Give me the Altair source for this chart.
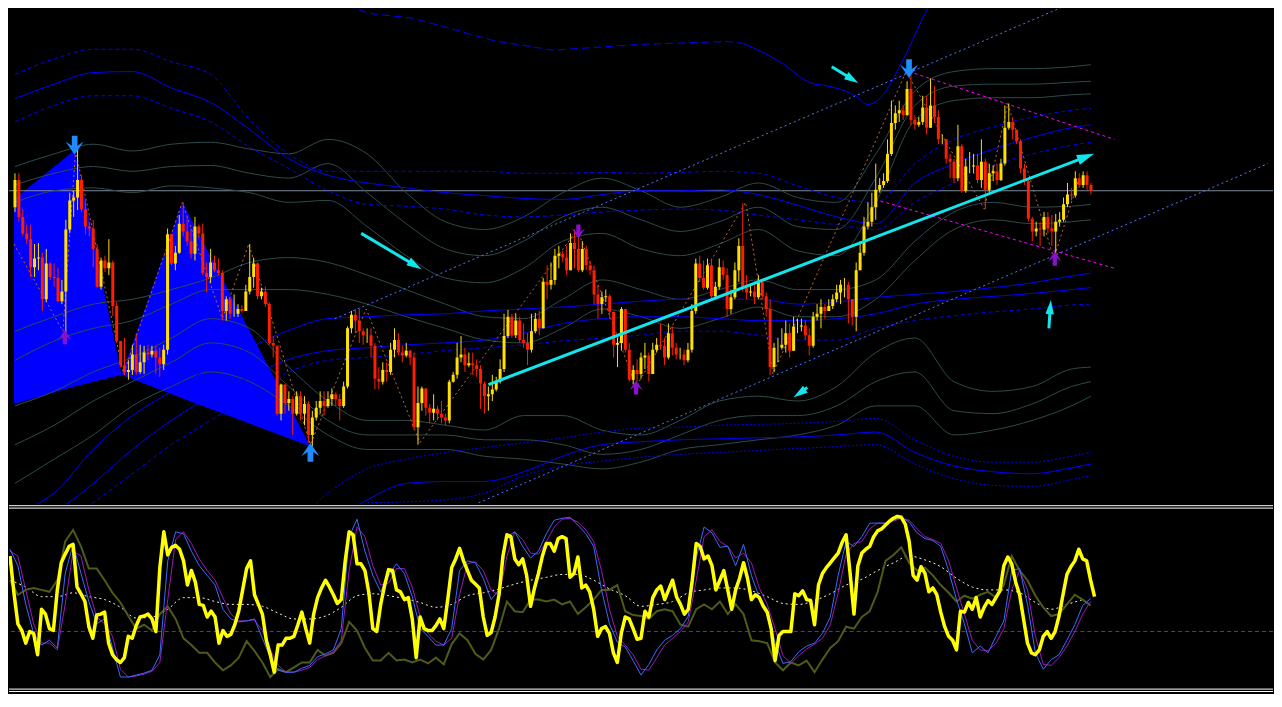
import altair as alt
import pandas as pd
import numpy as np

# ---------------- price candles (values are chart levels: smaller = higher price) ----------------
first_open = 205
close = [
177,215,232,238,267,258,257,300,263,277,
278,302,292,228,198,195,177,207,225,227,
248,287,260,268,262,307,343,368,375,373,
357,375,365,355,357,353,360,367,352,233,
263,252,222,230,240,253,225,232,273,277,
262,270,273,312,300,315,315,310,312,292,
277,263,297,292,305,345,348,418,388,407,
403,418,400,418,408,440,422,412,405,410,
403,398,403,410,390,330,316,322,333,337,
337,348,382,385,373,375,352,342,355,358,
353,360,432,407,392,412,417,413,418,422,
425,385,378,360,357,368,366,368,372,387,
400,398,393,385,372,338,318,337,322,342,
345,352,333,320,330,282,285,280,255,253,
257,270,242,248,270,248,265,270,295,305,
298,297,313,347,345,310,352,383,373,377,
360,358,377,352,347,348,360,335,350,357,
357,363,352,312,263,278,288,265,297,287,
267,275,310,298,270,245,288,293,292,298,
282,297,310,370,350,350,347,335,353,328,
328,327,337,348,318,315,308,312,307,300,
293,285,285,300,318,270,252,225,220,205,
187,182,178,150,118,108,105,110,83,115,
120,117,102,123,100,112,135,135,155,158,
175,142,188,163,163,162,177,158,187,170,
168,177,160,123,117,125,137,165,178,217,
230,227,228,215,227,230,220,218,202,192,
193,175,182,172,182,188]
high = [
170,170,207,223,223,243,242,252,248,262,
263,268,280,218,190,188,145,172,198,220,
218,243,257,255,238,260,303,345,340,363,
347,335,347,348,347,348,348,350,347,227,
237,245,213,200,215,227,215,223,222,262,
248,255,258,270,297,298,295,305,306,285,
243,257,262,288,287,303,338,357,387,388,
395,400,395,395,400,405,415,405,395,395,
395,392,396,398,385,328,312,310,310,330,
330,330,345,370,365,365,345,330,335,348,
345,352,355,390,390,395,408,398,410,405,
418,383,375,345,338,350,355,355,362,368,
385,390,378,380,362,315,311,315,315,318,
325,335,315,314,312,278,265,262,248,245,
250,245,232,228,230,240,245,260,265,285,
292,290,295,315,340,308,320,345,368,362,
355,345,355,345,340,325,340,325,328,345,
350,352,345,305,258,255,260,258,258,282,
258,260,268,290,262,237,201,275,285,282,
275,290,293,300,345,340,330,322,325,318,
320,320,322,330,313,305,300,305,300,295,
285,280,278,282,300,262,240,215,200,190,
160,175,170,135,95,100,95,100,75,68,
110,112,90,90,72,80,105,130,135,150,
155,120,140,155,148,150,150,135,155,160,
162,160,155,100,98,112,125,135,160,175,
215,220,220,210,210,213,212,210,195,180,
185,168,170,168,168,180]
low = [
210,220,235,243,277,277,270,312,303,280,
287,303,305,338,232,215,208,210,233,235,
267,288,290,272,275,317,345,370,378,383,
378,378,377,377,363,360,377,380,373,357,
265,270,253,235,245,258,260,237,275,293,
283,272,275,322,322,320,318,318,314,312,
295,288,300,300,308,347,360,420,425,418,
415,440,420,425,430,448,452,425,418,420,
412,410,410,425,412,392,335,335,345,347,
345,360,393,393,388,385,378,360,358,365,
360,368,435,450,415,420,428,425,425,428,
430,428,386,382,365,375,370,378,380,413,
418,415,405,395,387,375,340,340,340,345,
350,368,355,335,337,306,300,290,285,268,
262,275,270,268,272,272,270,275,305,320,
315,303,320,360,370,353,355,385,388,385,
382,372,385,375,355,352,368,362,358,362,
362,368,365,355,315,282,290,290,302,300,
290,280,318,315,300,282,292,300,297,305,
300,300,318,378,375,365,352,355,360,345,
335,333,342,358,350,322,330,320,312,310,
303,305,298,325,327,333,265,255,228,225,
218,190,185,180,152,125,117,115,110,120,
125,122,120,130,123,118,140,140,160,175,
180,178,190,190,170,170,180,185,207,190,
178,182,178,162,125,135,140,170,182,220,
240,235,245,235,232,245,258,225,220,205,
198,195,185,185,187,192]

# ---------------- band lines sampled every 10 bars ----------------
grid_bars = list(range(0, 271, 10)) + [275]
U1 = [68,52,42,42,55,68,115,150,168,168,168,168,168,170,170,169,170,169,168,170,183,195,200,160,135,122,112,105,103]
U2 = [93,78,66,65,82,97,125,155,172,180,185,190,193,196,197,192,188,188,187,192,203,215,222,180,160,145,133,123,120]
U3 = [117,100,90,90,103,117,143,165,188,202,204,207,213,215,213,210,208,207,208,213,218,223,228,200,180,162,150,141,138]
GU1 = [163,150,140,147,140,138,145,150,135,150,190,220,228,215,190,175,188,205,195,180,195,200,150,85,65,62,62,60,58]
GU2 = [182,170,163,168,163,162,170,175,160,190,222,248,255,240,215,205,218,230,220,205,225,228,175,100,80,78,78,76,75]
GU3 = [200,188,185,190,183,185,190,200,198,225,255,278,283,268,240,232,248,255,243,228,250,255,200,115,95,92,92,89,88]
GM1 = [333,318,305,300,290,278,262,257,262,275,290,305,318,320,300,280,290,300,290,280,290,290,280,240,210,200,205,204,202]
GM2 = [363,343,330,322,305,290,290,290,295,305,318,330,342,345,330,310,318,330,320,308,318,318,300,260,228,218,222,220,218]
GL1 = [410,395,375,360,340,320,330,370,405,425,425,430,435,420,420,435,440,425,405,400,405,390,355,340,385,395,390,372,370]
GL2 = [450,430,405,385,365,345,355,390,425,440,440,440,445,445,450,460,455,440,425,420,420,410,385,375,415,418,408,390,385]
GL3 = [490,465,440,410,390,375,385,410,440,455,455,455,462,465,470,475,468,455,450,445,440,430,410,410,440,435,425,410,400]
L1 = [520,500,455,420,395,370,350,332,320,318,316,315,312,310,308,305,302,300,300,300,305,303,298,295,292,288,283,276,273]
L2 = [540,520,490,455,425,400,380,362,353,350,347,345,342,335,325,320,318,318,320,322,322,320,315,305,300,297,294,290,288]
L3 = [560,540,510,480,450,425,400,375,363,360,357,353,350,347,343,340,337,333,333,337,342,342,330,322,317,313,310,306,305]
B1 = [None]*7 + [540,500,475,465,458,453,448,443,437,433,432,430,429,428,426,423,445,462,468,468,462,458]
B2 = [None]*8 + [530,507,490,488,488,478,462,450,447,445,444,443,442,440,437,458,472,478,480,474,470]
B3 = [None]*9 + [510,509,507,500,482,472,467,463,460,458,456,454,452,450,470,485,492,493,486,482]

# top long-period band: dashed part then solid part (bar, level)
U0a_bar = [85, 90.5, 101.75, 122.25, 137.5, 159.75, 182.25, 186.25]
U0a_val = [-3, 5, 10, 33, 43, 37, 34, 36]
U0b_bar = [186.25, 195.5, 203.5, 207.75, 214.75, 218, 221, 227, 233.25, 234.75]
U0b_val = [36, 55, 77, 80, 90, 99, 93, 53, 0, -10]

# harmonic pattern triangles (bar, upper edge, lower edge)
tri1_bar = [-0.25, 15.25, 27.25]
tri1_top = [197, 146, 378]
tri1_bot = [408, 390, 378]
tri2_bar = [27.25, 42.75, 75.5]
tri2_top = [378, 200, 452]
tri2_bot = [378, 402, 452]

# zigzag swing points
zz_bar = [-0.25, 12.25, 15.5, 27.75, 42.75, 53, 59.75, 75.5, 89.75, 103.5, 143.75, 158.75, 186.75, 193.75, 227.75, 247.75, 253.75, 265.5, 271.75]
zz_val = [243, 333, 147, 377, 200, 320, 243, 450, 310, 448, 228, 390, 200, 377, 65, 207, 98, 258, 178]

hline_level = 188

# channel / wedge segments: (bar0, level0, bar1, level1)
channel_segs = [(81.75, 320, 269.75, -5), (118.5, 510, 320.25, 160)]
wedge_segs = [(228.5, 65, 281, 135), (219.75, 197, 281, 268)]
cyan_segs = [(121, 388, 273.75, 153), (88.5, 232, 102.25, 265), (208.75, 60, 214, 73),
             (202.5, 391, 200.5, 397), (264.25, 330, 264.6, 308)]
cyan_head_angle = [69, 121, 122, 236, 5]
cyan_head_size = [300, 220, 200, 200, 200]

# pattern markers
blue_mk_bar = [15.25, 228.5, 75.5]
blue_mk_val = [141, 62, 458]
blue_mk_dir = ["down", "down", "up"]
purple_mk_bar = [12.75, 144, 158.75, 265.75]
purple_mk_val = [339, 230, 391, 258]
purple_mk_dir = ["up", "down", "up", "up"]

# ---------------- oscillator panel ----------------
osc_main = [
565,603,635,642,655,643,645,667,620,625,
640,642,600,572,563,555,553,597,604,612,
638,650,626,625,623,655,667,672,675,670,
648,650,637,628,627,625,630,643,577,540,
564,556,554,558,570,595,580,592,615,616,
628,622,628,655,642,648,646,636,622,600,
578,570,605,615,625,652,667,685,657,657,
650,650,648,636,623,640,655,625,608,598,
590,597,605,614,610,570,540,543,573,573,
580,603,640,643,615,595,579,580,600,602,
610,608,630,670,628,640,642,642,637,630,
640,610,577,568,557,570,580,590,594,598,
628,647,644,628,605,565,543,545,568,574,
568,585,617,598,583,565,552,552,560,547,
545,547,587,583,566,598,595,602,620,648,
640,638,645,665,675,645,628,630,640,651,
650,622,628,608,600,596,610,600,590,607,
615,625,620,590,552,555,568,565,575,600,
590,580,600,620,600,588,572,588,610,605,
608,617,623,640,673,647,643,643,643,604,
606,601,610,611,636,595,583,577,572,567,
562,551,543,582,625,575,562,558,555,545,
539,537,533,529,526,524,525,532,550,585,
590,576,583,602,598,605,623,638,648,652,
662,622,623,613,620,608,628,618,611,615,
608,601,575,566,573,592,605,630,655,665,
667,662,648,643,650,643,627,605,584,576,
570,558,568,570,590,607]
sig_blue = [558,575,615,645,657,652,660,583,553,583,
612,635,630,660,690,690,688,686,683,667,
570,540,542,560,575,585,595,620,630,633,
632,630,650,670,683,685,685,681,678,669,
666,662,640,545,527,560,585,602,585,573,
583,607,640,648,657,657,640,580,570,572,
588,610,600,545,540,555,567,560,542,528,
526,525,533,542,555,600,635,654,659,673,
688,677,662,652,647,640,627,567,535,541,
556,555,575,553,585,608,620,655,676,674,
664,658,655,645,628,585,550,555,545,531,
531,531,528,525,530,541,547,549,555,580,
610,635,665,658,665,648,632,580,578,615,
665,682,672,667,652,636,616,609]
sig_purple = [560,565,600,635,655,655,662,615,560,565,
600,628,635,648,682,690,689,687,684,675,
610,548,540,552,568,580,590,608,625,632,
632,631,642,662,678,685,685,683,680,672,
668,664,652,580,535,545,575,595,593,578,
578,597,628,645,653,657,650,605,573,571,
580,600,606,565,540,548,562,563,550,535,
527,526,530,538,550,580,620,648,657,667,
682,683,670,657,650,643,633,590,545,538,
550,555,567,562,572,598,615,640,668,676,
668,661,656,650,636,603,563,552,550,537,
531,531,529,526,528,537,545,548,552,570,
598,625,652,662,663,655,640,600,580,600,
648,677,678,670,658,643,625,612]
olive = [590,605,600,598,600,602,590,550,538,555,
578,578,590,603,613,627,640,636,642,625,
617,630,650,657,665,665,675,683,678,670,
653,663,675,690,682,685,680,675,675,662,
668,665,655,633,642,660,673,673,665,673,
672,675,672,676,670,677,656,645,652,666,
672,662,640,612,622,623,610,610,612,610,
615,612,625,618,610,600,600,595,622,626,
627,630,622,620,622,636,638,620,615,620,
612,625,615,625,652,653,655,675,683,675,
678,673,685,672,660,653,638,640,628,622,
602,570,564,556,572,580,577,585,595,603,
612,606,609,605,602,608,595,565,580,590,
606,618,627,625,615,605,610,616]
cream = [590,597,607,607,603,607,610,618,629,628,
620,608,608,612,615,615,617,624,630,630,
627,618,606,604,606,609,613,618,615,606,
603,599,594,590,587,584,584,590,599,606,
617,615,612,603,600,598,598,601,607,614,
615,611,604,595,589,580,572,565,569,576,
588,597,600,600,603,613,620,615,610]
osc_level = 643
frame_levels = [513, 515.5, 702.5, 705]

# ---------------- build tables ----------------
n = min(len(close), len(high), len(low))
close = close[:n]; high = high[:n]; low = low[:n]
opens = [first_open] + close[:-1]
cdf = pd.DataFrame({"bar": np.arange(n), "open": opens, "close": close, "high": high, "low": low})
cdf["hi"] = np.minimum(cdf["high"], np.minimum(cdf["open"], cdf["close"]))
cdf["lo"] = np.maximum(cdf["low"], np.maximum(cdf["open"], cdf["close"]))
cdf["dir"] = np.where(cdf["close"] <= cdf["open"], "bull", "bear")

def band_table(d):
    rows = []
    for name, vals in d.items():
        for b, v in zip(grid_bars, vals):
            if v is not None:
                rows.append({"bar": b, "v": v, "name": name})
    return pd.DataFrame(rows)

gray_df = band_table({"GU1": GU1, "GU2": GU2, "GU3": GU3, "GM1": GM1, "GM2": GM2,
                      "GL1": GL1, "GL2": GL2, "GL3": GL3})
blue_solid_df = band_table({"U2": U2, "L2": L2, "B2": B2, "L1": L1})
blue_dash_df = band_table({"U1": U1, "U3": U3, "L3": L3})
blue_dot_df = band_table({"B1": B1, "B3": B3})
u0a_df = pd.DataFrame({"bar": U0a_bar, "v": U0a_val})
u0b_df = pd.DataFrame({"bar": U0b_bar, "v": U0b_val})

tri1 = pd.DataFrame({"bar": tri1_bar, "top": tri1_top, "bot": tri1_bot})
tri2 = pd.DataFrame({"bar": tri2_bar, "top": tri2_top, "bot": tri2_bot})
zz_df = pd.DataFrame({"bar": zz_bar, "v": zz_val})

def seg_df(segs):
    return pd.DataFrame(segs, columns=["x0", "y0", "x1", "y1"])

chan_df = seg_df(channel_segs)
wedge_df = seg_df(wedge_segs)
cyan_df = seg_df(cyan_segs)
cyan_df["ang"] = cyan_head_angle
cyan_df["sz"] = cyan_head_size

mk_blue = pd.DataFrame({"bar": blue_mk_bar, "v": blue_mk_val, "dir": blue_mk_dir})
mk_purple = pd.DataFrame({"bar": purple_mk_bar, "v": purple_mk_val, "dir": purple_mk_dir})

osc_df = pd.DataFrame({"bar": np.arange(len(osc_main)), "v": osc_main})
sigb_df = pd.DataFrame({"bar": np.arange(len(sig_blue)) * 2, "v": sig_blue})
sigp_df = pd.DataFrame({"bar": np.arange(len(sig_purple)) * 2, "v": sig_purple})
olive_df = pd.DataFrame({"bar": np.arange(len(olive)) * 2, "v": olive})
cream_df = pd.DataFrame({"bar": np.arange(len(cream)) * 4, "v": cream})

# ---------------- scales ----------------
W = 1266
H_UP = 496
H_LO = 190
xs = alt.Scale(domain=[-0.25, 320.25], nice=False, zero=False)
ys_up = alt.Scale(domain=[0, 511], reverse=True, nice=False, zero=False)
ys_lo = alt.Scale(domain=[511, 707], reverse=True, nice=False, zero=False)

def X(f="bar"):
    return alt.X(f"{f}:Q", scale=xs, axis=None)

def YU(f="v"):
    return alt.Y(f"{f}:Q", scale=ys_up, axis=None)

def YL(f="v"):
    return alt.Y(f"{f}:Q", scale=ys_lo, axis=None)

# custom symbol paths live in the [-1, 1] box
ARROW_DOWN = "M-0.3,-1L0.3,-1L0.3,0.05L0.95,-0.4L0,1L-0.95,-0.4L-0.3,0.05Z"
ARROW_UP = "M-0.3,1L0.3,1L0.3,-0.05L0.95,0.4L0,-1L-0.95,0.4L-0.3,-0.05Z"
HEAD = "M0,-1L0.6,1L-0.6,1Z"
shape_enc = alt.Shape("dir:N", scale=alt.Scale(domain=["up", "down"], range=[ARROW_UP, ARROW_DOWN]), legend=None)

# ---------------- upper panel ----------------
layers = []
layers.append(alt.Chart(tri1).mark_area(color="#0000FF", opacity=1, clip=True).encode(x=X(), y=YU("top"), y2="bot:Q"))
layers.append(alt.Chart(tri2).mark_area(color="#0000FF", opacity=1, clip=True).encode(x=X(), y=YU("top"), y2="bot:Q"))
layers.append(alt.Chart(pd.DataFrame({"v": [hline_level]})).mark_rule(color="#7D8B9A", strokeWidth=1).encode(y=YU()))
layers.append(alt.Chart(gray_df).mark_line(color="#2F4A4A", strokeWidth=1, interpolate="monotone", clip=True)
              .encode(x=X(), y=YU(), detail="name:N"))
layers.append(alt.Chart(blue_solid_df).mark_line(color="#0000FF", strokeWidth=1, interpolate="monotone", clip=True)
              .encode(x=X(), y=YU(), detail="name:N"))
layers.append(alt.Chart(blue_dash_df).mark_line(color="#0000FF", strokeWidth=1, strokeDash=[4, 3], interpolate="monotone", clip=True)
              .encode(x=X(), y=YU(), detail="name:N"))
layers.append(alt.Chart(blue_dot_df).mark_line(color="#0000FF", strokeWidth=1, strokeDash=[2, 2], interpolate="monotone", clip=True)
              .encode(x=X(), y=YU(), detail="name:N"))
layers.append(alt.Chart(u0a_df).mark_line(color="#0000FF", strokeWidth=1, strokeDash=[8, 4], clip=True)
              .encode(x=X(), y=YU()))
layers.append(alt.Chart(u0b_df).mark_line(color="#0000FF", strokeWidth=1, interpolate="monotone", clip=True)
              .encode(x=X(), y=YU()))
layers.append(alt.Chart(chan_df).mark_rule(color="#4F78FF", strokeWidth=1, strokeDash=[2, 3], clip=True)
              .encode(x=X("x0"), x2="x1:Q", y=YU("y0"), y2="y1:Q"))
layers.append(alt.Chart(wedge_df).mark_rule(color="#FF00FF", strokeWidth=1, strokeDash=[3, 3], clip=True)
              .encode(x=X("x0"), x2="x1:Q", y=YU("y0"), y2="y1:Q"))
layers.append(alt.Chart(zz_df).mark_line(color="#C06A30", strokeWidth=1, strokeDash=[2, 3], clip=True)
              .encode(x=X(), y=YU()))
candle_color = alt.Color("dir:N", scale=alt.Scale(domain=["bull", "bear"], range=["#FFE000", "#FF1E00"]), legend=None)
layers.append(alt.Chart(cdf).mark_rule(strokeWidth=1, clip=True)
              .encode(x=X(), y=YU("hi"), y2="lo:Q", color=candle_color))
layers.append(alt.Chart(cdf).mark_bar(width=3, clip=True)
              .encode(x=X(), y=YU("open"), y2="close:Q", color=candle_color))
layers.append(alt.Chart(cyan_df).mark_rule(color="#10E6EC", strokeWidth=3, clip=True)
              .encode(x=X("x0"), x2="x1:Q", y=YU("y0"), y2="y1:Q"))
layers.append(alt.Chart(cyan_df).mark_point(shape=HEAD, filled=True, color="#10E6EC", opacity=1, clip=True)
              .encode(x=X("x1"), y=YU("y1"), angle=alt.Angle("ang:Q", scale=None), size=alt.Size("sz:Q", scale=None)))
layers.append(alt.Chart(mk_blue).mark_point(filled=True, color="#1E8CFF", opacity=1, size=360, clip=True)
              .encode(x=X(), y=YU(), shape=shape_enc))
layers.append(alt.Chart(mk_purple).mark_point(filled=True, color="#8A10D0", opacity=1, size=200, clip=True)
              .encode(x=X(), y=YU(), shape=shape_enc))

upper = alt.layer(*layers).properties(width=W, height=H_UP)

# ---------------- lower panel ----------------
lo_layers = []
lo_layers.append(alt.Chart(pd.DataFrame({"v": frame_levels})).mark_rule(color="#FFFFFF", strokeWidth=1).encode(y=YL()))
lo_layers.append(alt.Chart(pd.DataFrame({"v": [osc_level]})).mark_rule(color="#A010A0", strokeWidth=1, strokeDash=[4, 3]).encode(y=YL()))
lo_layers.append(alt.Chart(cream_df).mark_line(color="#FFF1D6", strokeWidth=1, strokeDash=[2, 3], interpolate="monotone", clip=True)
                 .encode(x=X(), y=YL()))
lo_layers.append(alt.Chart(olive_df).mark_line(color="#4E5A1A", strokeWidth=2, clip=True).encode(x=X(), y=YL()))
lo_layers.append(alt.Chart(sigp_df).mark_line(color="#9A1AB8", strokeWidth=1, clip=True).encode(x=X(), y=YL()))
lo_layers.append(alt.Chart(sigb_df).mark_line(color="#3A6BFF", strokeWidth=1, clip=True).encode(x=X(), y=YL()))
lo_layers.append(alt.Chart(osc_df).mark_line(color="#FFFF00", strokeWidth=3.5, strokeJoin="round", clip=True).encode(x=X(), y=YL()))

lower = alt.layer(*lo_layers).properties(width=W, height=H_LO)

chart = alt.vconcat(upper, lower, spacing=0).properties(
    background="#000000", padding=0
).configure_view(strokeWidth=0)

chart.save("out.html", embed_options={"renderer": "svg", "actions": False})
